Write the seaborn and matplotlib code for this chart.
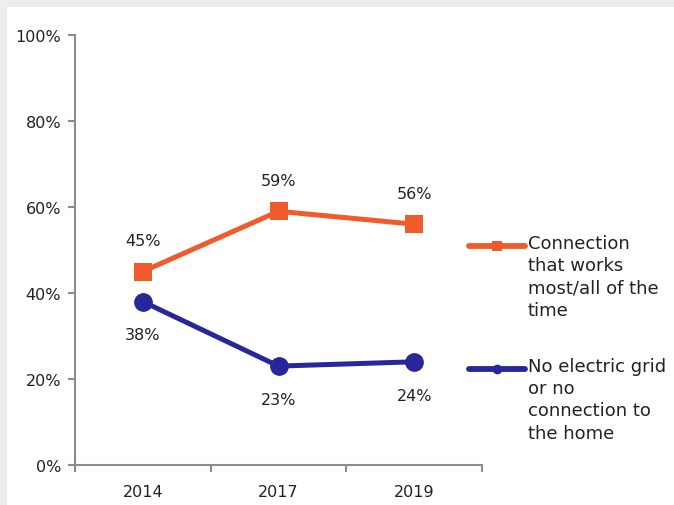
import matplotlib
matplotlib.use("Agg")
import matplotlib.pyplot as plt
from matplotlib.lines import Line2D
from matplotlib.patches import Rectangle
import seaborn as sns
import pandas as pd

years = ["2014", "2017", "2019"]
works_label = "Connection\nthat works\nmost/all of the\ntime"
nogrid_label = "No electric grid\nor no\nconnection to\nthe home"
works_values = [45, 59, 56]
nogrid_values = [38, 23, 24]
y_ticks = [0, 20, 40, 60, 80, 100]

ORANGE = "#F15A2B"
BLUE = "#27279B"
AXIS_GREY = "#8C8C8C"

df = pd.DataFrame({
    "year": years * 2,
    "value": works_values + nogrid_values,
    "series": [works_label] * 3 + [nogrid_label] * 3,
})

sns.set_theme(style="white")
plt.rcParams["font.family"] = ["DejaVu Sans"]

W, H = 674, 506
fig = plt.figure(figsize=(W / 100, H / 100), dpi=100)
fig.patch.set_facecolor("#EDEDED")
fig.patches.append(Rectangle((7 / W, 0), 1, 1 - 8 / H, transform=fig.transFigure,
                             facecolor="white", edgecolor="none", zorder=-5))

ax = fig.add_axes([75 / W, 1 - 466 / H, (482 - 75) / W, (466 - 36) / H])
ax.set_facecolor("none")
ax.set_zorder(2)

sns.lineplot(data=df, x="year", y="value", hue="series", style="series",
             palette={works_label: ORANGE, nogrid_label: BLUE},
             markers={works_label: "s", nogrid_label: "o"}, dashes=False,
             linewidth=3.6, markersize=13.5, markeredgewidth=0,
             legend=False, ax=ax)
for line in ax.lines:
    line.set_clip_on(False)

# value labels
for i, v in enumerate(works_values):
    ax.annotate(f"{v}%", (i, v), xytext=(0, 22), textcoords="offset points",
                ha="center", va="center", fontsize=11.5, color="#222222")
for i, v in enumerate(nogrid_values):
    ax.annotate(f"{v}%", (i, v), xytext=(0, -24), textcoords="offset points",
                ha="center", va="center", fontsize=11.5, color="#222222")

ax.set_xlim(-0.5, 2.5)
ax.set_ylim(0, 100)
ax.set_yticks(y_ticks)
ax.set_yticklabels([f"{t}%" for t in y_ticks])
ax.set_xticks(range(len(years)))
ax.set_xticklabels(years)
ax.set_xticks([-0.5, 0.5, 1.5, 2.5], minor=True)
ax.tick_params(axis="x", which="major", bottom=True, length=0, pad=14,
               labelsize=11.5, labelcolor="#222222")
ax.tick_params(axis="x", which="minor", bottom=True, length=5, width=1.5,
               color=AXIS_GREY, direction="out")
ax.tick_params(axis="y", which="major", left=True, length=5, width=1.5,
               color=AXIS_GREY, direction="out", labelsize=11.5,
               labelcolor="#222222", pad=5)
ax.set_xlabel("")
ax.set_ylabel("")
for side in ("top", "right"):
    ax.spines[side].set_visible(False)
for side in ("left", "bottom"):
    ax.spines[side].set_color(AXIS_GREY)
    ax.spines[side].set_linewidth(1.5)

# legend drawn beside the plot
def legend_entry(y_px, color, marker, msize, label):
    y = 1 - y_px / H
    fig.add_artist(Line2D([469 / W, 525 / W], [y, y], transform=fig.transFigure,
                          color=color, linewidth=4.2, solid_capstyle="round"))
    fig.add_artist(Line2D([497 / W], [y], transform=fig.transFigure, color=color,
                          marker=marker, markersize=msize, markeredgewidth=0))
    fig.text(528 / W, 1 - (y_px - 12) / H, label, ha="left", va="top",
             fontsize=13, color="#222222", linespacing=1.3)

legend_entry(247, ORANGE, "s", 7.5, works_label)
legend_entry(370, BLUE, "o", 7, nogrid_label)

fig.savefig("out.png", dpi=100)
